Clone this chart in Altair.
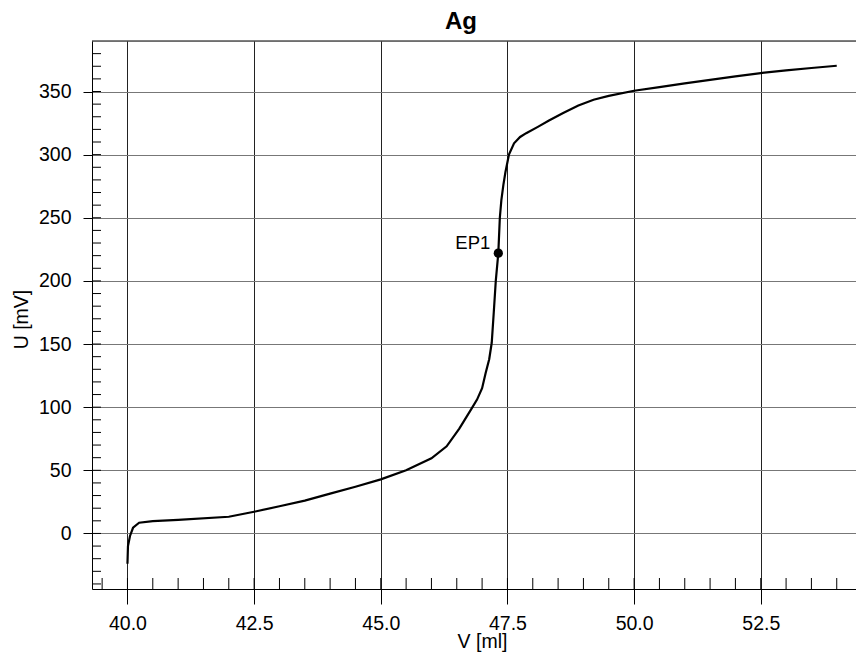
import altair as alt
import pandas as pd
import numpy as np

# Titration curve (Ag)
vol = [40.0, 40.01, 40.05, 40.11, 40.23, 40.5, 41.0, 42.0, 42.5, 43.0, 43.5, 44.0,
       44.5, 45.0, 45.5, 46.0, 46.3, 46.55, 46.78, 46.9, 47.0, 47.07, 47.14, 47.19,
       47.23, 47.27, 47.32, 47.35, 47.38, 47.42, 47.46, 47.53, 47.63, 47.75, 47.87,
       48.1, 48.32, 48.6, 48.9, 49.2, 49.5, 50.0, 50.5, 51.0, 51.5, 52.0, 52.5,
       53.0, 53.5, 54.0]
pot = [-24, -10, -2, 4.5, 8.5, 9.8, 10.8, 13.2, 17.2, 21.5, 26, 31.5, 37, 42.8,
       50, 59.5, 69, 83, 98, 106, 115, 127, 138, 151, 175, 200, 222, 250, 264,
       276, 286, 300, 309, 314, 317, 322, 327, 333, 339, 343.5, 346.5, 350.6,
       353.5, 356.5, 359.2, 362, 364.6, 366.8, 368.6, 370.4]

ep_x = [47.32]
ep_y = [222]
ep_label = ["EP1"]

x_major = [40.0, 42.5, 45.0, 47.5, 50.0, 52.5]
y_major = [0, 50, 100, 150, 200, 250, 300, 350]
x_minor = list(np.round(np.arange(39.5, 54.01, 0.5), 2))
y_minor = list(range(-40, 390, 10))

X_DOM = [39.3, 54.38]
Y_DOM = [-44, 390]
W, H = 764, 548
FONT = "Liberation Sans"
LFS = 19.5

df = pd.DataFrame({"V": vol, "U": pot})
ep = pd.DataFrame({"V": ep_x, "U": ep_y, "t": ep_label})
xm = pd.DataFrame({"v": x_minor})
ym = pd.DataFrame({"v": y_minor})

xs = alt.Scale(domain=X_DOM, nice=False, zero=False)
ys = alt.Scale(domain=Y_DOM, nice=False, zero=False)

x_axis = alt.Axis(values=x_major, format=".1f", tickSize=15, labelPadding=10,
                  grid=True, gridColor="#222222", gridWidth=1,
                  domainColor="black", tickColor="black",
                  labelFontSize=LFS, labelColor="black", labelFont=FONT,
                  titleFontSize=LFS, titleFont=FONT, titleColor="black",
                  titleFontWeight="normal", titleBaseline="alphabetic",
                  titleY=58, titleX=W / 2 + 8)
y_axis = alt.Axis(values=y_major, tickSize=9, labelPadding=12,
                  grid=True, gridColor="#777777", gridWidth=1,
                  domainColor="black", tickColor="black",
                  labelFontSize=LFS, labelColor="black", labelFont=FONT,
                  titleFontSize=LFS, titleFont=FONT, titleColor="black",
                  titleFontWeight="normal", titleBaseline="alphabetic",
                  titleAngle=-90, titleX=-65, titleY=278)

line = alt.Chart(df).mark_line(color="black", strokeWidth=2.2).encode(
    x=alt.X("V:Q", scale=xs, title="V [ml]", axis=x_axis),
    y=alt.Y("U:Q", scale=ys, title="U [mV]", axis=y_axis),
)

xminor = alt.Chart(xm).mark_rule(color="black", strokeWidth=1).encode(
    x=alt.X("v:Q", scale=xs, title="V [ml]", axis=x_axis),
    y=alt.value(H), y2=alt.value(H - 11),
)
yminor = alt.Chart(ym).mark_rule(color="black", strokeWidth=1).encode(
    y=alt.Y("v:Q", scale=ys, title="U [mV]", axis=y_axis),
    x=alt.value(0), x2=alt.value(9),
)
top = alt.Chart(pd.DataFrame({"a": [0]})).mark_rule(color="black", strokeWidth=1.2).encode(
    x=alt.value(0), x2=alt.value(W), y=alt.value(0),
)

pt = alt.Chart(ep).mark_circle(color="black", opacity=1, size=85).encode(
    x=alt.X("V:Q", scale=xs, title="V [ml]", axis=x_axis),
    y=alt.Y("U:Q", scale=ys, title="U [mV]", axis=y_axis),
)
txt = alt.Chart(ep).mark_text(align="right", baseline="alphabetic", dx=-8, dy=-4,
                              fontSize=18.5, font=FONT, color="black").encode(
    x=alt.X("V:Q", scale=xs, title="V [ml]", axis=x_axis),
    y=alt.Y("U:Q", scale=ys, title="U [mV]", axis=y_axis),
    text="t:N",
)

chart = alt.layer(line, xminor, yminor, top, pt, txt).properties(
    width=W, height=H,
    title=alt.TitleParams("Ag", fontSize=24, fontWeight="bold", font=FONT,
                          color="black", anchor="middle", dx=-13, offset=6),
    autosize=alt.AutoSizeParams(type="none"),
    padding={"left": 84, "top": 33, "right": 0, "bottom": 68},
).configure_view(stroke=None).configure(background="white")

chart.save("out.html", embed_options={"renderer": "svg", "actions": False})
